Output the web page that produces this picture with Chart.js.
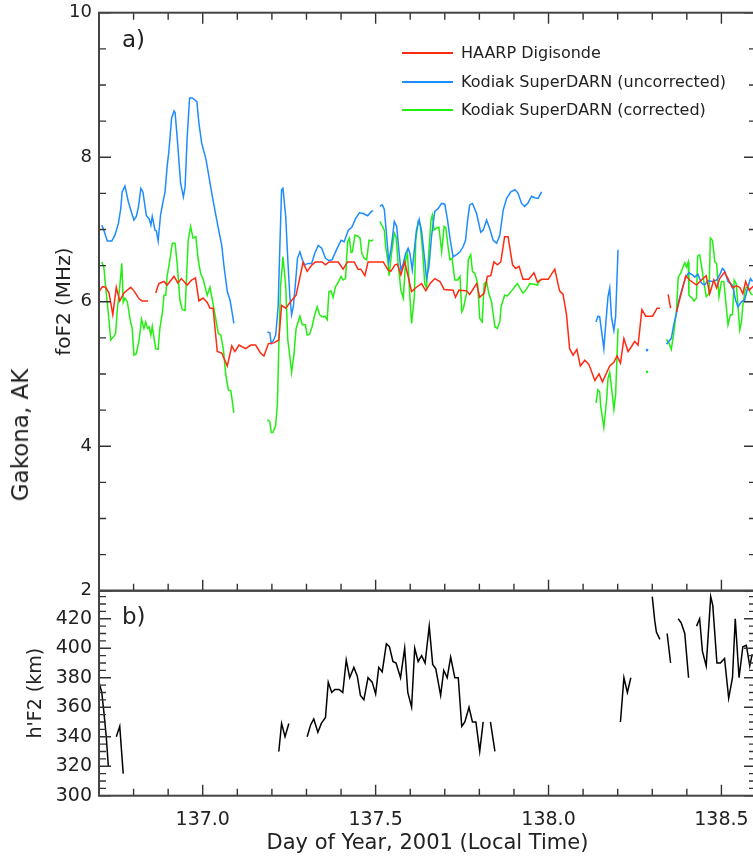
<!DOCTYPE html>
<html><head><meta charset="utf-8">
<script src="https://cdn.jsdelivr.net/npm/chart.js@4.4.0/dist/chart.umd.min.js"></script>
<style>
html,body{margin:0;padding:0;background:#fff;overflow:hidden;width:753px;height:856px;position:relative;font-family:"DejaVu Sans",sans-serif;color:#222}
#botWrap{position:absolute;left:0;top:588px;width:780px;height:268px}
#topWrap{position:absolute;left:0;top:0;width:780px;height:600px}
.lbl{position:absolute;white-space:nowrap;color:#222}
.sw{position:absolute;height:0;border-top:2px solid}
</style></head><body>
<div id="botWrap"><canvas id="bot" width="780" height="268" style="width:780px;height:268px"></canvas></div>
<div id="topWrap"><canvas id="top" width="780" height="600" style="width:780px;height:600px"></canvas></div>
<div class="lbl" style="left:20px;top:435px;font-size:23px;transform:translate(-50%,-50%) rotate(-90deg);">Gakona, AK</div>
<div class="lbl" style="left:122px;top:26px;font-size:23px;">a)</div>
<div class="lbl" style="left:122px;top:603px;font-size:23px;">b)</div>
<div id="legend"></div>
<script>
// ---------------- data ----------------
const xRange = [136.7, 138.6];
const xTickValues = [137.0, 137.5, 138.0, 138.5];
const foF2Ticks = [2, 4, 6, 8, 10];
const hF2Ticks = [300, 320, 340, 360, 380, 400, 420];
const seriesNames = ['HAARP Digisonde', 'Kodiak SuperDARN (uncorrected)', 'Kodiak SuperDARN (corrected)'];

// HAARP Digisonde foF2 (null = data gap)
const haarpDay = [136.700,136.710,136.719,136.729,136.740,136.750,136.760,136.772,136.792,136.801,136.816,136.825,136.842,null,
136.864,136.873,136.888,136.897,136.917,136.928,136.938,136.955,136.968,136.979,136.989,137.001,137.013,137.021,137.030,137.042,137.055,137.071,137.084,137.093,137.105,137.124,137.139,137.153,137.167,137.177,137.190,137.206,137.220,137.228,137.240,137.254,137.270,137.290,137.302,137.316,137.326,137.345,137.355,137.365,137.392,137.406,137.419,137.438,137.449,137.457,137.469,137.478,137.522,137.536,137.544,137.556,137.563,137.573,137.584,137.594,137.604,137.618,137.633,137.645,137.657,137.671,137.686,137.698,137.724,137.731,137.741,137.763,137.772,137.792,137.801,137.814,137.823,137.833,137.842,137.852,137.862,137.873,137.883,137.896,137.905,137.915,137.926,137.943,137.958,137.968,137.980,137.999,138.018,138.032,138.042,138.052,138.061,138.071,138.082,138.092,138.105,138.117,138.134,138.146,138.156,138.177,138.189,138.198,138.208,138.218,138.230,138.240,138.249,138.259,138.270,138.281,138.301,138.314,138.322,null,
138.346,138.353,null,
138.370,138.397,138.408,138.428,138.442,138.456,138.466,138.478,138.486,138.495,138.509,138.519,138.532,138.543,138.553,138.562,138.570,138.580,138.589,138.600];
const haarpFoF2 = [6.14,6.21,6.20,6.12,5.82,6.20,6.01,6.12,6.20,6.15,6.04,6.01,6.01,null,
6.12,6.25,6.28,6.23,6.35,6.26,6.32,6.23,6.30,6.33,6.01,6.05,5.99,5.91,5.91,5.31,5.29,5.11,5.39,5.31,5.40,5.35,5.40,5.40,5.29,5.25,5.42,5.43,5.47,5.95,5.91,6.00,6.09,6.54,6.42,6.51,6.55,6.55,6.51,6.55,6.55,6.45,6.55,6.55,6.45,6.45,6.36,6.55,6.55,6.44,6.42,6.51,6.52,6.37,6.55,6.35,6.14,6.20,6.25,6.15,6.25,6.32,6.28,6.17,6.16,6.06,6.16,6.15,6.10,6.25,6.06,6.12,6.35,6.36,6.55,6.51,6.55,6.90,6.90,6.51,6.46,6.49,6.31,6.31,6.40,6.27,6.31,6.31,6.45,6.15,6.10,5.82,5.35,5.26,5.34,5.11,5.19,5.13,4.91,5.00,4.89,5.11,5.16,5.25,5.15,5.49,5.31,5.38,5.45,5.40,5.89,5.80,5.80,5.91,5.91,null,
6.10,5.91,null,
5.86,6.36,6.30,6.23,6.30,6.36,6.11,6.30,6.19,6.32,6.41,6.32,6.19,6.22,6.20,6.11,6.28,6.16,6.20,6.25];

// Kodiak SuperDARN uncorrected foF2
const uncorrDay = [136.708,136.714,136.724,136.737,136.746,136.756,136.763,136.767,136.775,136.785,136.795,136.801,136.808,136.814,136.821,136.827,136.837,136.845,136.850,136.854,136.862,136.866,136.871,136.878,136.885,136.891,136.897,136.902,136.910,136.917,136.920,136.926,136.936,136.944,136.949,136.955,136.962,136.970,136.983,136.989,136.997,137.009,137.018,137.028,137.037,137.047,137.055,137.061,137.071,137.079,137.084,137.090,null,
137.187,137.194,137.198,137.203,137.211,137.218,137.223,137.228,137.232,137.240,137.246,137.252,137.257,137.262,137.269,137.274,137.281,137.288,137.295,137.305,137.315,137.324,137.334,137.344,137.355,137.365,137.374,137.387,137.400,137.409,137.421,137.431,137.442,137.453,137.464,137.477,137.488,137.493,null,
137.512,137.519,137.525,137.532,137.538,137.546,137.554,137.561,137.567,137.573,137.580,137.587,137.594,137.599,137.606,137.612,137.618,137.626,137.633,137.642,137.647,137.654,137.662,137.671,137.681,137.691,137.700,137.708,137.715,137.724,137.734,137.744,137.753,137.760,137.766,137.772,137.780,137.792,137.804,137.811,137.821,137.830,137.840,137.850,137.859,137.869,137.879,137.891,137.903,137.912,137.922,137.931,137.941,137.951,137.960,137.970,137.980,null,
138.137,138.143,138.148,138.160,138.166,138.172,138.177,138.182,138.189,138.194,138.201,null,
138.285,null,
138.341,138.351,138.355,138.362,138.370,138.377,138.387,138.397,138.406,138.416,138.423,138.432,138.442,138.451,138.461,138.474,138.486,138.495,138.503,138.509,138.519,138.532,138.541,138.548,138.558,138.567,138.577,138.584,138.590];
const uncorrFoF2 = [7.06,6.99,6.84,6.84,6.92,7.08,7.29,7.52,7.60,7.38,7.22,7.13,7.18,7.31,7.57,7.52,7.19,7.15,7.06,7.18,6.99,6.98,6.84,7.20,7.38,7.52,7.87,8.08,8.54,8.64,8.62,8.28,7.64,7.45,7.59,8.28,8.82,8.82,8.77,8.47,8.19,7.98,7.73,7.45,7.22,6.97,6.78,6.51,6.14,6.02,5.88,5.70,null,
5.58,5.57,5.42,5.45,5.54,5.93,6.76,7.55,7.57,7.18,6.58,6.07,5.82,5.93,6.30,6.60,6.69,6.58,6.51,6.53,6.53,6.67,6.78,6.74,6.60,6.57,6.58,6.72,6.85,6.83,6.99,7.03,7.15,7.23,7.22,7.19,7.25,7.26,null,
7.32,7.34,7.28,6.90,6.55,6.78,7.11,7.04,6.72,6.44,6.53,6.67,6.74,6.67,6.44,6.72,6.99,7.14,6.97,6.58,6.32,6.48,6.92,7.25,7.29,7.36,7.35,7.13,6.88,6.62,6.65,6.69,6.76,6.85,7.13,7.34,7.36,7.22,6.96,6.99,7.13,7.01,6.85,6.81,6.92,7.27,7.43,7.52,7.55,7.50,7.36,7.32,7.37,7.46,7.44,7.43,7.52,null,
5.72,5.80,5.79,5.35,5.72,6.07,6.19,5.79,5.60,5.79,6.72,null,
5.33,null,
5.41,5.47,5.49,5.68,5.84,6.02,6.19,6.34,6.40,6.37,6.34,6.38,6.26,6.23,6.29,6.28,6.30,6.37,6.46,6.43,6.28,6.23,6.02,5.93,6.00,6.02,6.21,6.32,6.28];

// Kodiak SuperDARN corrected foF2
const corrDay = [136.708,136.714,136.719,136.727,136.734,136.743,136.748,136.753,136.760,136.766,136.770,136.775,136.782,136.790,136.796,136.801,136.808,136.816,136.823,136.830,136.835,136.840,136.845,136.850,136.854,136.864,136.871,136.876,136.883,136.888,136.893,136.897,136.904,136.912,136.920,136.926,136.934,136.941,136.949,136.952,136.958,136.965,136.972,136.980,136.987,136.994,137.002,137.009,137.013,137.021,137.028,137.037,137.045,137.052,137.060,137.066,137.074,137.081,137.085,137.090,null,
137.187,137.194,137.198,137.203,137.211,137.216,137.220,137.225,137.232,137.240,137.246,137.251,137.257,137.264,137.270,137.276,137.281,137.288,137.297,137.302,137.309,137.316,137.324,137.331,137.338,137.345,137.353,137.360,137.365,137.371,137.377,137.384,137.390,137.400,137.406,137.413,137.419,137.424,137.429,137.433,137.440,137.448,137.455,137.460,137.467,137.474,137.481,137.488,137.493,null,
137.512,137.519,137.525,137.529,137.535,137.539,137.546,137.554,137.559,137.565,137.573,137.580,137.587,137.592,137.599,137.604,137.612,137.616,137.623,137.629,137.636,137.642,137.647,137.654,137.660,137.664,137.669,137.676,137.683,137.691,137.698,137.703,137.710,137.715,137.721,137.729,137.737,137.744,137.749,137.754,137.763,137.768,137.775,137.780,137.787,137.795,137.801,137.808,137.814,137.821,137.827,137.835,137.845,137.852,137.859,137.863,137.873,137.881,137.888,137.895,137.903,137.910,137.917,137.926,137.933,137.946,137.958,137.968,137.975,137.980,null,
138.137,138.143,138.148,138.151,138.160,138.168,138.172,138.177,138.182,138.189,138.194,138.201,null,
138.285,null,
138.341,138.349,138.355,138.362,138.370,138.375,138.382,138.389,138.394,138.399,138.404,138.406,138.413,138.421,138.428,138.431,138.437,138.442,138.449,138.456,138.464,138.468,138.474,138.481,138.486,138.493,138.500,138.507,138.514,138.519,138.526,138.532,138.537,138.543,138.553,138.558,138.562,138.570,138.577,138.584,138.590];
const corrFoF2 = [6.55,6.48,6.21,5.84,5.47,5.52,5.56,5.89,6.21,6.53,5.99,6.05,6.00,5.75,5.63,5.26,5.28,5.47,5.76,5.63,5.72,5.63,5.65,5.54,5.66,5.35,5.34,5.63,5.84,6.09,6.09,6.35,6.55,6.81,6.81,6.53,6.02,5.89,5.88,6.21,6.85,7.04,6.88,6.90,6.58,6.39,6.30,6.16,6.09,6.20,6.02,5.78,5.56,5.54,5.33,5.01,4.78,4.77,4.64,4.46,null,
4.37,4.34,4.19,4.19,4.29,4.59,5.38,6.21,6.62,6.21,5.47,5.28,5.02,5.28,5.63,5.72,5.80,5.68,5.68,5.54,5.55,5.65,5.82,5.93,5.82,5.79,5.80,5.75,6.14,6.15,6.06,6.21,6.25,6.35,6.30,6.32,6.83,6.88,6.68,6.69,6.92,6.91,6.88,6.67,6.60,6.58,6.85,6.84,6.86,null,
7.11,7.05,6.99,6.76,6.58,6.36,6.67,6.95,6.90,6.53,6.16,6.05,6.58,6.67,6.07,5.70,6.07,6.85,7.11,7.06,6.69,6.25,6.19,6.69,7.13,7.20,6.99,7.02,7.03,6.69,7.04,7.02,6.74,6.58,6.60,6.30,6.30,6.35,5.86,5.91,6.12,6.58,6.65,6.42,6.39,6.25,5.77,5.72,6.25,6.28,6.12,6.00,5.65,5.63,5.72,5.93,6.09,6.08,6.12,6.16,6.21,6.25,6.19,6.12,6.15,6.25,6.24,6.23,6.30,6.31,null,
4.60,4.78,4.75,4.55,4.26,4.64,4.94,5.02,4.82,4.51,4.71,5.63,null,
5.03,null,
5.48,5.42,5.34,5.56,5.88,6.34,6.39,6.48,6.54,6.48,6.55,6.09,6.06,6.01,6.05,6.63,6.65,6.51,6.28,6.07,6.11,6.88,6.85,6.55,6.53,6.07,6.28,6.28,5.93,5.68,5.82,5.82,6.30,6.25,5.61,5.72,5.95,6.19,6.21,6.12,6.09];

// HAARP h'F2 (km)
const hDay = [136.700,136.708,136.714,136.721,136.727,null,
136.750,136.760,136.770,null,
137.220,137.228,137.238,137.249,null,
137.302,137.312,137.321,137.333,137.343,137.355,137.363,137.373,137.382,137.394,137.405,137.415,137.425,137.437,137.447,137.456,137.466,137.478,137.490,137.500,137.509,137.519,137.531,137.540,137.550,137.559,137.572,137.584,137.593,137.604,137.613,137.623,137.633,137.643,137.655,137.665,137.674,137.688,137.697,137.707,137.717,137.729,137.739,137.749,137.758,137.770,137.780,137.790,137.801,137.811,null,
137.832,137.845,null,
138.208,138.218,138.228,138.238,null,
138.300,138.307,138.312,138.322,null,
138.343,138.353,null,
138.375,138.384,138.394,138.405,null,
138.428,138.437,138.445,138.456,138.469,138.475,138.487,138.497,138.509,138.521,138.532,138.540,138.551,138.562,138.572,138.582,138.589];
const hF2 = [377,370,357,340,320,null,
340,347,315,null,
330,349,340,349,null,
340,348,352,343,349,353,377,370,372,372,370,392,380,387,381,368,365,380,377,369,387,384,403,401,391,390,380,400,370,360,400,391,395,390,415,389,386,368,385,380,394,380,380,347,350,360,350,350,330,350,null,
350,330,null,
350,380,370,380,null,
435,419,411,406,null,
410,390,null,
420,417,410,380,null,
415,420,398,388,435,429,390,390,393,366,380,420,380,401,402,388,396];

// ---------------- helpers ----------------
function build(days, vals) {
  const out = []; let lastX = days[0];
  for (let i = 0; i < days.length; i++) {
    if (vals[i] === null || days[i] === null) { out.push({x: lastX, y: null}); }
    else { out.push({x: days[i], y: vals[i]}); lastX = days[i]; }
  }
  return out;
}
function isolatedRadius(ctx) {
  const d = ctx.dataset.data, i = ctx.dataIndex;
  if (!d[i] || d[i].y === null) return 0;
  const p = d[i - 1], n = d[i + 1];
  return ((!p || p.y === null) && (!n || n.y === null)) ? 1.3 : 0;
}
const FONT = 'DejaVu Sans';
const TXT = '#222';
const RED = '#ff2a12', BLUE = '#1e8cff', GREEN = '#22ee11';

const frameTicks = {
  id: 'frameTicks',
  afterDatasetsDraw(chart, args, o) {
    const {ctx, chartArea: a} = chart;
    const x = chart.scales.x, y = chart.scales.y;
    ctx.save();
    ctx.strokeStyle = '#333';
    ctx.lineWidth = 1.4;
    const near = (v, s) => Math.abs(v / s - Math.round(v / s)) < 1e-6;
    ctx.beginPath();
    const nx0 = Math.ceil(x.min / o.xMinor - 1e-6), nx1 = Math.floor(x.max / o.xMinor + 1e-6);
    for (let n = nx0; n <= nx1; n++) {
      const v = n * o.xMinor, px = x.getPixelForValue(v);
      const L = near(v, o.xMajor) ? 11 : 7;
      if (o.top) { ctx.moveTo(px, a.top); ctx.lineTo(px, a.top + L); }
      if (o.bottom) { ctx.moveTo(px, a.bottom); ctx.lineTo(px, a.bottom - L); }
    }
    const ny0 = Math.ceil(y.min / o.yMinor - 1e-6), ny1 = Math.floor(y.max / o.yMinor + 1e-6);
    for (let n = ny0; n <= ny1; n++) {
      const v = n * o.yMinor, py = y.getPixelForValue(v);
      const L = near(v, o.yMajor) ? 12 : 7;
      ctx.moveTo(a.left, py); ctx.lineTo(a.left + L, py);
      ctx.moveTo(a.right, py); ctx.lineTo(a.right - L, py);
    }
    ctx.stroke();
    ctx.lineWidth = 2;
    ctx.strokeStyle = '#444';
    ctx.strokeRect(a.left, a.top, a.right - a.left, a.bottom - a.top);
    ctx.restore();
  }
};

function lineDs(label, days, vals, color, w) {
  return {label, data: build(days, vals), borderColor: color, backgroundColor: color,
    borderWidth: w, pointRadius: isolatedRadius, pointBorderWidth: 0, pointHoverRadius: 0,
    spanGaps: false, tension: 0, fill: false};
}
function fitY(s) { s.width = 99; s.paddingTop = 0; s.paddingBottom = 0; }
function fitX(h) { return s => { s.height = h; s.paddingLeft = 0; s.paddingRight = 0; }; }

// ---------------- top panel ----------------
new Chart(document.getElementById('top'), {
  type: 'line',
  data: {datasets: [
    lineDs(seriesNames[0], haarpDay, haarpFoF2, RED, 1.5),
    lineDs(seriesNames[1], uncorrDay, uncorrFoF2, BLUE, 1.5),
    lineDs(seriesNames[2], corrDay, corrFoF2, GREEN, 1.5)
  ]},
  plugins: [frameTicks],
  options: {
    responsive: false, animation: false, events: [],
    layout: {padding: {left: 0, right: 24, top: 12.7, bottom: 9.3}},
    plugins: {legend: {display: false}, tooltip: {enabled: false},
      frameTicks: {xMinor: 0.1, xMajor: 0.5, yMinor: 0.5, yMajor: 2, top: true, bottom: true}},
    scales: {
      x: {type: 'linear', min: xRange[0], max: xRange[1], display: false},
      y: {type: 'linear', min: 2, max: 10, position: 'left',
        afterFit: fitY,
        afterBuildTicks: s => { s.ticks = foF2Ticks.map(v => ({value: v})); },
        grid: {display: false, drawTicks: false}, border: {display: false},
        ticks: {padding: 7, color: TXT, font: {family: FONT, size: 18}},
        title: {display: true, text: 'foF2 (MHz)', color: TXT, padding: {top: 53, bottom: 0},
          font: {family: FONT, size: 20}}}
    }
  }
});

// ---------------- bottom panel ----------------
new Chart(document.getElementById('bot'), {
  type: 'line',
  data: {datasets: [ lineDs("h'F2", hDay, hF2, '#000', 1.5) ]},
  plugins: [frameTicks],
  options: {
    responsive: false, animation: false, events: [],
    layout: {padding: {left: 0, right: 24, top: 2.7, bottom: 0}},
    plugins: {legend: {display: false}, tooltip: {enabled: false},
      frameTicks: {xMinor: 0.1, xMajor: 0.5, yMinor: 5, yMajor: 20, top: false, bottom: true}},
    scales: {
      x: {type: 'linear', min: xRange[0], max: xRange[1], position: 'bottom',
        afterFit: fitX(60.3),
        afterBuildTicks: s => { s.ticks = xTickValues.map(v => ({value: v})); },
        grid: {display: false, drawTicks: false}, border: {display: false},
        ticks: {padding: 13, color: TXT, maxRotation: 0, font: {family: FONT, size: 19},
          callback: v => Number(v).toFixed(1)},
        title: {display: true, text: 'Day of Year, 2001 (Local Time)', color: TXT,
          padding: {top: 0, bottom: 0}, font: {family: FONT, size: 21}}},
      y: {type: 'linear', min: 300, max: 439, position: 'left',
        afterFit: fitY,
        afterBuildTicks: s => { s.ticks = hF2Ticks.map(v => ({value: v})); },
        grid: {display: false, drawTicks: false}, border: {display: false},
        ticks: {padding: 7, color: TXT, font: {family: FONT, size: 19}},
        title: {display: true, text: "h'F2 (km)", color: TXT, padding: {top: 25, bottom: 0},
          font: {family: FONT, size: 19}}}
    }
  }
});

// ---------------- legend ----------------
(function () {
  const colors = [RED, BLUE, GREEN];
  const ys = [52.7, 81.7, 110];
  const lg = document.getElementById('legend');
  seriesNames.forEach((name, i) => {
    const sw = document.createElement('div');
    sw.className = 'sw';
    sw.style.cssText = `left:402px;top:${ys[i] - 1}px;width:51px;border-top-color:${colors[i]}`;
    lg.appendChild(sw);
    const t = document.createElement('div');
    t.className = 'lbl';
    t.style.cssText = `left:461px;top:${ys[i]}px;font-size:16px;transform:translateY(-55%)`;
    t.textContent = name;
    lg.appendChild(t);
  });
})();
</script>
</body></html>
